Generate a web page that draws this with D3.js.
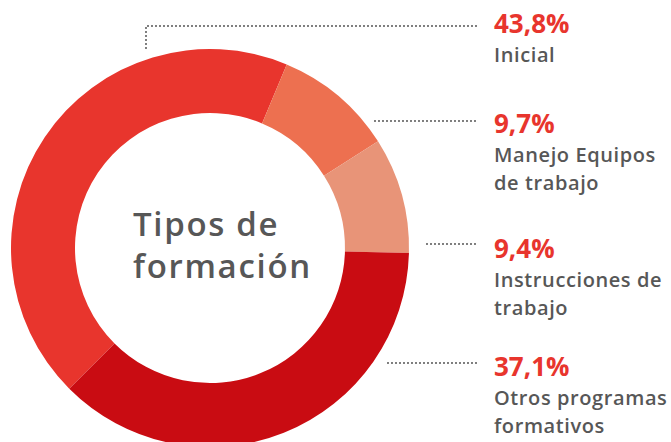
<!DOCTYPE html>
<html>
<head>
<meta charset="utf-8">
<script src="https://cdn.jsdelivr.net/npm/d3@7"></script>
<style>
  html, body { margin: 0; padding: 0; background: #fff; }
  svg { display: block; }
  text { font-family: "Open Sans", sans-serif; }
</style>
</head>
<body>
<svg id="chart" width="671" height="442"></svg>
<script>
// Training types and their share of the total
const categories = ["Inicial", "Manejo Equipos de trabajo", "Instrucciones de trabajo", "Otros programas formativos"];
const values = [43.8, 9.7, 9.4, 37.1];
const valueLabels = ["43,8%", "9,7%", "9,4%", "37,1%"];
const labelLines = [["Inicial"], ["Manejo Equipos", "de trabajo"], ["Instrucciones de", "trabajo"], ["Otros programas", "formativos"]];
const colors = ["#e8352d", "#ed7050", "#e89478", "#c90c12"];

const svg = d3.select("#chart");
const cx = 210, cy = 248, outerR = 199, innerR = 135;

const pie = d3.pie().sort(null).value(d => d)
  .startAngle(-3 * Math.PI / 4).endAngle(-3 * Math.PI / 4 + 2 * Math.PI);
const arc = d3.arc().innerRadius(innerR).outerRadius(outerR);

const g = svg.append("g").attr("transform", `translate(${cx},${cy})`);
g.selectAll("path").data(pie(values)).join("path")
  .attr("d", arc)
  .attr("fill", (d, i) => colors[i]);

// Centre title
const title = svg.append("text")
  .attr("fill", "#575757")
  .attr("font-size", 33).attr("font-weight", 600)
  .attr("letter-spacing", 1.7);
title.append("tspan").attr("x", 133).attr("y", 236).text("Tipos de");
title.append("tspan").attr("x", 133).attr("y", 278).text("formación");

// Label block layout: value baseline, leader line y, line start
const labelX = 494, lineEnd = 477;
const layout = [
  { base: 33, lineY: 26, startX: 146, elbowY: 48 },
  { base: 133, lineY: 121, startX: 375 },
  { base: 258, lineY: 244, startX: 427 },
  { base: 376, lineY: 363, startX: 388 }
];

layout.forEach((L, i) => {
  const pts = L.elbowY !== undefined
    ? [[L.startX, L.elbowY], [L.startX, L.lineY], [lineEnd, L.lineY]]
    : [[L.startX, L.lineY], [lineEnd, L.lineY]];
  svg.append("path")
    .attr("d", d3.line()(pts))
    .attr("fill", "none")
    .attr("stroke", "#555")
    .attr("stroke-width", 2)
    .attr("stroke-linecap", "round")
    .attr("stroke-dasharray", "0,4");

  svg.append("text")
    .attr("x", labelX).attr("y", L.base)
    .attr("fill", "#e8352d")
    .attr("font-size", 26).attr("font-weight", 700)
    .text(valueLabels[i]);

  labelLines[i].forEach((t, j) => {
    svg.append("text")
      .attr("x", labelX).attr("y", L.base + 28.5 + j * 28.5)
      .attr("fill", "#575757")
      .attr("font-size", 20).attr("font-weight", 600)
      .attr("letter-spacing", 0.6)
      .text(t);
  });
});
</script>
</body>
</html>
